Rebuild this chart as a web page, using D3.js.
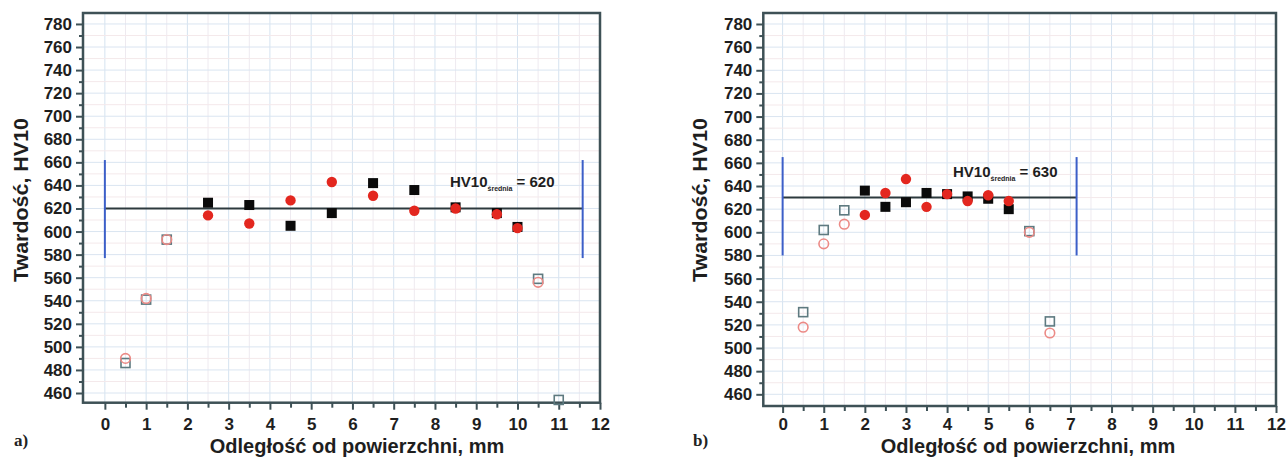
<!DOCTYPE html>
<html>
<head>
<meta charset="utf-8">
<script src="https://cdn.jsdelivr.net/npm/d3@7"></script>
<style>
  body { margin: 0; background: #fff; }
  text { font-family: "Liberation Sans", Arial, sans-serif; }
</style>
</head>
<body>
<div id="chart"></div>
<script>
const width = 1288;
const height = 457;

const xTicks = d3.range(0, 13);
const yTicks = d3.range(460, 781, 20);

// panel a)
const aSolidX = [2.5, 3.5, 4.5, 5.5, 6.5, 7.5, 8.5, 9.5, 10];
const aSquareY = [625, 623, 605, 616, 642, 636, 621, 616, 604];
const aCircleY = [614, 607, 627, 643, 631, 618, 620, 615, 603];
const aOpenSquareX = [0.5, 1, 1.5, 10.5, 11];
const aOpenSquareY = [486, 541, 593, 559, 454];
const aOpenCircleX = [0.5, 1, 1.5, 10.5];
const aOpenCircleY = [490, 542, 593, 556];
const aMean = 620;
const aMeanSpan = [0, 11.58];
const aBand = [577, 662];

// panel b)
const bSolidX = [2, 2.5, 3, 3.5, 4, 4.5, 5, 5.5];
const bSquareY = [636, 622, 626, 634, 633, 631, 629, 620];
const bCircleY = [615, 634, 646, 622, 633, 627, 632, 627];
const bOpenSquareX = [0.5, 1, 1.5, 6, 6.5];
const bOpenSquareY = [531, 602, 619, 601, 523];
const bOpenCircleX = [0.5, 1, 1.5, 6, 6.5];
const bOpenCircleY = [518, 590, 607, 600, 513];
const bMean = 630;
const bMeanSpan = [0, 7.15];
const bBand = [580, 665];

const svg = d3.select("#chart").append("svg")
  .attr("width", width).attr("height", height);

function drawPanel(p) {
  const x = d3.scaleLinear().domain(p.xDomain).range([p.left, p.right]);
  const y = d3.scaleLinear().domain(p.yDomain).range([p.bottom, p.top]);
  const g = svg.append("g");

  // grid
  g.append("g").selectAll("line").data(d3.range(0, 12.01, 0.5))
    .join("line")
    .attr("x1", d => x(d)).attr("x2", d => x(d))
    .attr("y1", p.top).attr("y2", p.bottom)
    .attr("stroke", d => d % 1 === 0 ? "#d5e3f0" : "#eeeaf0").attr("stroke-width", 1);
  g.append("g").selectAll("line").data(d3.range(460, 790, 10))
    .join("line")
    .attr("x1", p.left).attr("x2", p.right)
    .attr("y1", d => y(d)).attr("y2", d => y(d))
    .attr("stroke", d => d % 20 === 0 ? "#dae5f1" : "#f4e9eb").attr("stroke-width", 1);

  // frame
  g.append("rect")
    .attr("x", p.left).attr("y", p.top)
    .attr("width", p.right - p.left).attr("height", p.bottom - p.top)
    .attr("fill", "none").attr("stroke", "#3e5156").attr("stroke-width", 2.5);

  // axes
  g.append("g").attr("transform", `translate(0,${p.bottom})`)
    .call(d3.axisBottom(x).tickValues(xTicks).tickSize(7).tickPadding(p.xPad).tickFormat(d3.format("d")));
  g.append("g").attr("transform", `translate(0,${p.bottom})`)
    .call(d3.axisBottom(x).tickValues(d3.range(0.5, 12, 1)).tickSize(5).tickFormat(""));
  g.append("g").attr("transform", `translate(${p.left},0)`)
    .call(d3.axisLeft(y).tickValues(yTicks).tickSize(7).tickPadding(4));
  g.append("g").attr("transform", `translate(${p.left},0)`)
    .call(d3.axisLeft(y).tickValues(d3.range(470, 790, 20)).tickSize(4).tickFormat(""));
  g.selectAll(".domain").remove();
  g.selectAll(".tick line").attr("stroke", "#3e5156").attr("stroke-width", 2);
  g.selectAll(".tick text")
    .attr("fill", "#1e1e1e")
    .style("font-size", "17px").style("font-weight", "bold")
    .style("font-family", "'Liberation Sans', Arial, sans-serif");

  // axis titles
  g.append("text")
    .attr("x", p.xTitleX).attr("y", 453)
    .attr("text-anchor", "middle")
    .style("font-size", "20px").style("font-weight", "bold").attr("fill", "#1e1e1e")
    .text("Odległość od powierzchni, mm");
  g.append("text")
    .attr("transform", `translate(${p.yTitleX},${p.yTitleY}) rotate(-90)`)
    .attr("text-anchor", "middle")
    .attr("textLength", 164).attr("lengthAdjust", "spacingAndGlyphs")
    .style("font-size", "20px").style("font-weight", "bold").attr("fill", "#1e1e1e")
    .text("Twardość, HV10");

  // panel letter
  g.append("text")
    .attr("x", p.letterX).attr("y", 446)
    .style("font-family", "'Liberation Serif', 'DejaVu Serif', serif")
    .style("font-size", "17px").style("font-weight", "bold").attr("fill", "#222")
    .text(p.letter);

  // mean line and band limits
  g.append("line")
    .attr("x1", x(p.meanSpan[0])).attr("x2", x(p.meanSpan[1]))
    .attr("y1", y(p.mean)).attr("y2", y(p.mean))
    .attr("stroke", "#2d3a3e").attr("stroke-width", 2);
  g.append("g").selectAll("line").data(p.meanSpan)
    .join("line")
    .attr("x1", d => x(d)).attr("x2", d => x(d))
    .attr("y1", y(p.band[0])).attr("y2", y(p.band[1]))
    .attr("stroke", "#3c5fc8").attr("stroke-width", 2);

  const label = g.append("text")
    .attr("x", p.labelX).attr("y", y(p.labelY))
    .style("font-size", "15px").style("font-weight", "bold").attr("fill", "#1e1e1e");
  label.append("tspan").text("HV10");
  label.append("tspan").attr("dy", 4).style("font-size", "7px").text("średnia");
  label.append("tspan").attr("dy", -4).text(" = " + p.mean);

  // open markers
  g.append("g").selectAll("rect").data(p.openSquareX.map((d, i) => [d, p.openSquareY[i]]))
    .join("rect")
    .attr("x", d => x(d[0]) - 4.5).attr("y", d => y(d[1]) - 4.5)
    .attr("width", 9).attr("height", 9)
    .attr("fill", "none").attr("stroke", "#5e7a80").attr("stroke-width", 1.6);
  g.append("g").selectAll("circle").data(p.openCircleX.map((d, i) => [d, p.openCircleY[i]]))
    .join("circle")
    .attr("cx", d => x(d[0])).attr("cy", d => y(d[1])).attr("r", 4.8)
    .attr("fill", "none").attr("stroke", "#ec8a86").attr("stroke-width", 1.6);

  // filled markers
  g.append("g").selectAll("rect").data(p.solidX.map((d, i) => [d, p.squareY[i]]))
    .join("rect")
    .attr("x", d => x(d[0]) - 5).attr("y", d => y(d[1]) - 5)
    .attr("width", 10).attr("height", 10)
    .attr("fill", "#0a0a0a");
  g.append("g").selectAll("circle").data(p.solidX.map((d, i) => [d, p.circleY[i]]))
    .join("circle")
    .attr("cx", d => x(d[0])).attr("cy", d => y(d[1])).attr("r", 5.2)
    .attr("fill", "#e3271f");
}

drawPanel({
  left: 83, right: 600, top: 13, bottom: 402.7, xPad: 8,
  xDomain: [-0.53, 12], yDomain: [451.6, 789.5],
  xTitleX: 357, yTitleX: 28, yTitleY: 200, letterX: 14, letter: "a)",
  solidX: aSolidX, squareY: aSquareY, circleY: aCircleY,
  openSquareX: aOpenSquareX, openSquareY: aOpenSquareY,
  openCircleX: aOpenCircleX, openCircleY: aOpenCircleY,
  mean: aMean, meanSpan: aMeanSpan, band: aBand, labelX: 450, labelY: 639
});

drawPanel({
  left: 763.3, right: 1276, top: 13, bottom: 406, xPad: 5,
  xDomain: [-0.47, 12], yDomain: [449.9, 789.5],
  xTitleX: 1028, yTitleX: 707, yTitleY: 200, letterX: 693, letter: "b)",
  solidX: bSolidX, squareY: bSquareY, circleY: bCircleY,
  openSquareX: bOpenSquareX, openSquareY: bOpenSquareY,
  openCircleX: bOpenCircleX, openCircleY: bOpenCircleY,
  mean: bMean, meanSpan: bMeanSpan, band: bBand, labelX: 953, labelY: 648
});
</script>
</body>
</html>
